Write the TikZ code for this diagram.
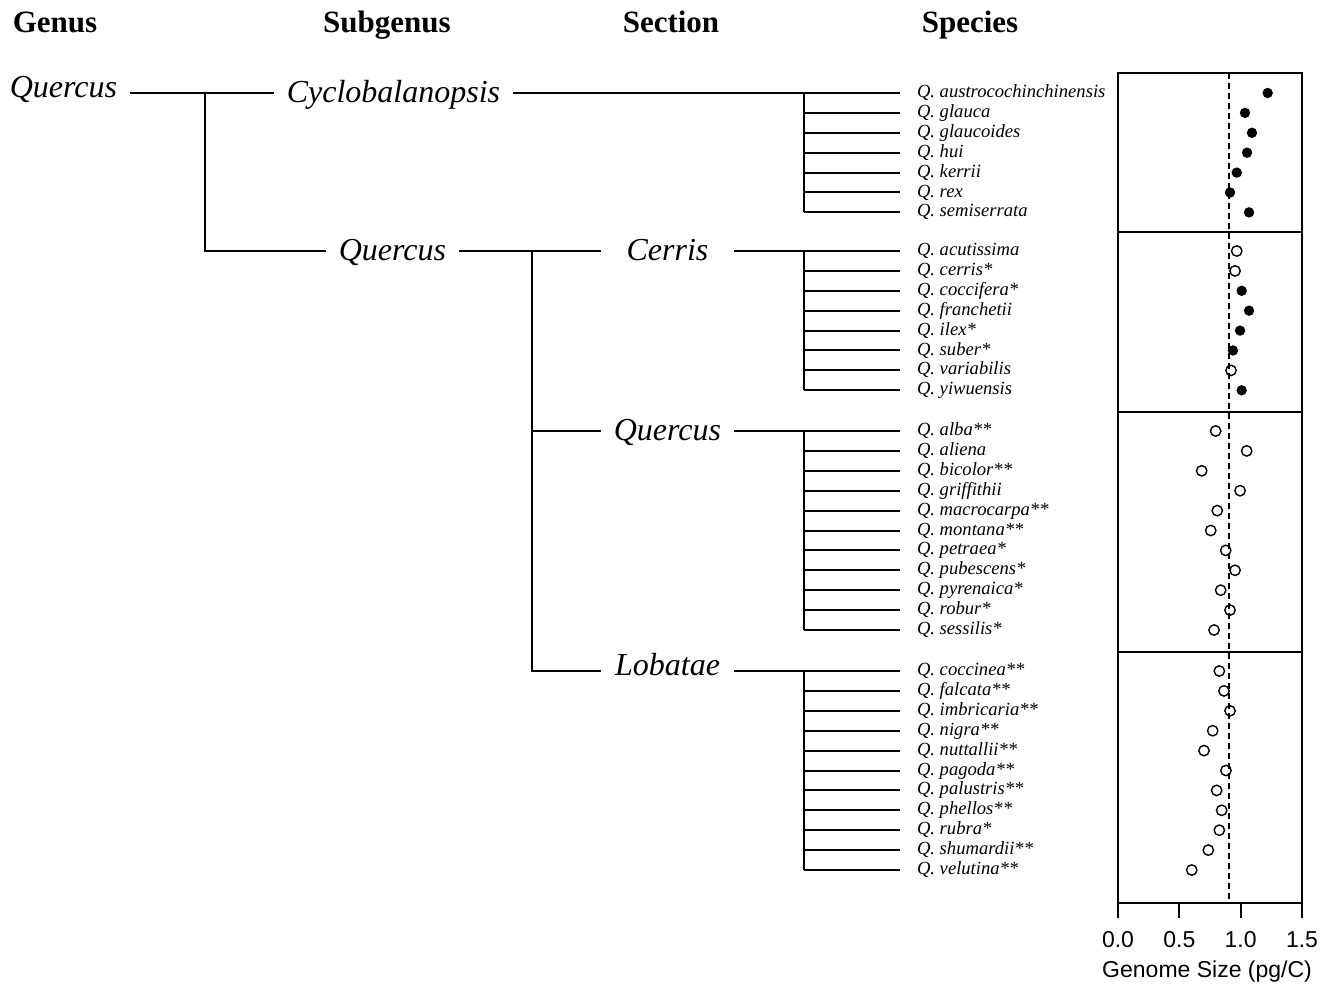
\documentclass[tikz,border=0pt]{standalone}
\usepackage{fontspec}
\setmainfont{Liberation Serif}
\setsansfont{Liberation Sans}
\usepackage{tikz}

\tikzset{
  taxon/.style={font=\fontsize{16}{18}\selectfont\itshape, text height=9.5pt, text depth=0pt, inner xsep=6pt, inner ysep=0pt},
  sectn/.style={taxon, minimum width=65.5pt, inner xsep=0pt},
  species/.style={anchor=west, font=\fontsize{9.3}{11}\selectfont\itshape, text height=1ex, text depth=0pt, inner xsep=8pt, inner ysep=0pt},
  rank/.style={anchor=base, font=\fontsize{15.5}{18}\selectfont\bfseries},
  axislabel/.style={font=\fontsize{11.5}{13}\selectfont\sffamily},
  branch/.style={line width=1pt},
  filled/.style={fill=black},
  hollow/.style={draw=black, line width=0.7pt},
}

\begin{document}
\begin{tikzpicture}[x=0.5pt, y=-0.5pt, line width=1pt]
		\useasboundingbox (0,0) rectangle (1338,989);
		% rank headers
		\node[rank] (hG) at (55,33) {Genus};
		\node[rank] (hSg) at (387,33) {Subgenus};
		\node[rank] (hSe) at (671,33) {Section};
		\node[rank] (hSp) at (970,33) {Species};
		% genus, subgenera and sections
		\node[taxon, text height=4.4pt] (gQ) at (63.5,93) {Quercus};
		\node[taxon] (sgC) at (393.5,93) {Cyclobalanopsis};
		\node[taxon] (sgQ) at (392.5,251) {Quercus};
		\node[sectn] (sCe) at (667.5,251) {Cerris};
		\node[sectn] (sQu) at (667.5,431) {Quercus};
		\node[sectn, text height=4.4pt] (sLo) at (667.5,671) {Lobatae};
		\coordinate (kG) at (205,93);
		\coordinate (kSg) at (532,251);
		% species of each section
		\foreach \nm/\gs/\kd [count=\i] in {austrocochinchinensis/1.220/filled, glauca/1.035/filled, glaucoides/1.092/filled, hui/1.052/filled, kerrii/0.968/filled, rex/0.913/filled, semiserrata/1.068/filled}
		{
			\pgfmathsetmacro{\y}{93+(\i-1)*19.9}
			\node[species] (cyc-\i) at (900,\y) {Q. \nm};
			\path[\kd] ({1118+122.67*\gs},\y) circle (2.6pt);
		}
		\foreach \nm/\gs/\kd [count=\i] in {acutissima/0.968/hollow, cerris*/0.954/hollow, coccifera*/1.008/filled, franchetii/1.068/filled, ilex*/0.995/filled, suber*/0.937/filled, variabilis/0.921/hollow, yiwuensis/1.008/filled}
		{
			\pgfmathsetmacro{\y}{251+(\i-1)*19.9}
			\node[species] (cer-\i) at (900,\y) {Q. \nm};
			\path[\kd] ({1118+122.67*\gs},\y) circle (2.6pt);
		}
		\foreach \nm/\gs/\kd [count=\i] in {alba**/0.796/hollow, aliena/1.049/hollow, bicolor**/0.682/hollow, griffithii/0.995/hollow, macrocarpa**/0.809/hollow, montana**/0.756/hollow, petraea*/0.878/hollow, pubescens*/0.954/hollow, pyrenaica*/0.837/hollow, robur*/0.913/hollow, sessilis*/0.783/hollow}
		{
			\pgfmathsetmacro{\y}{431+(\i-1)*19.9}
			\node[species] (que-\i) at (900,\y) {Q. \nm};
			\path[\kd] ({1118+122.67*\gs},\y) circle (2.6pt);
		}
		\foreach \nm/\gs/\kd [count=\i] in {coccinea**/0.826/hollow, falcata**/0.864/hollow, imbricaria**/0.913/hollow, nigra**/0.772/hollow, nuttallii**/0.701/hollow, pagoda**/0.880/hollow, palustris**/0.804/hollow, phellos**/0.845/hollow, rubra*/0.826/hollow, shumardii**/0.736/hollow, velutina**/0.601/hollow}
		{
			\pgfmathsetmacro{\y}{671+(\i-1)*19.9}
			\node[species] (lob-\i) at (900,\y) {Q. \nm};
			\path[\kd] ({1118+122.67*\gs},\y) circle (2.6pt);
		}
		% tree
		\draw[branch] (gQ.east) -- (sgC.west);
		\draw[branch] (kG) -- (kG |- sgQ) -- (sgQ.west);
		\draw[branch] (sgC.east) -- (cyc-1.west);
		\draw[branch] (sgQ.east) -- (sCe.west);
		\draw[branch] (kSg) -- (kSg |- sLo) -- (sLo.west);
		\draw[branch] (kSg |- sQu) -- (sQu.west);
		\draw[branch] (sCe.east) -- (cer-1.west);
		\draw[branch] (sQu.east) -- (que-1.west);
		\draw[branch] (sLo.east) -- (lob-1.west);
		\foreach \grp/\n in {cyc/7, cer/8, que/11, lob/11}
		{
			\coordinate (k-\grp) at (804,0);
			\draw[branch] (k-\grp |- \grp-1) -- (k-\grp |- \grp-\n);
			\foreach \j in {2,...,\n}
				\draw[branch] (k-\grp |- \grp-\j) -- (\grp-\j.west);
		}
		% genome size panel
		\begin{scope}[shift={(1118,0)}, x=61.33pt]
			\draw[branch] (0,73) rectangle (1.5,903);
			\foreach \yy in {232,412,652}
				\draw[line width=0.8pt] (0,\yy) -- (1.5,\yy);
			\draw[line width=0.8pt, dash pattern=on 3pt off 2pt] (0.905,73) -- (0.905,903);
			\foreach \t in {0.0,0.5,1.0,1.5}
			{
				\draw[branch] (\t,903) -- (\t,918);
				\node[axislabel] (t-\t) at (\t,940) {\t};
			}
			\node[axislabel] (xlab) at (0.726,972) {Genome Size (pg/C)};
		\end{scope}
	\end{tikzpicture}
\end{document}
